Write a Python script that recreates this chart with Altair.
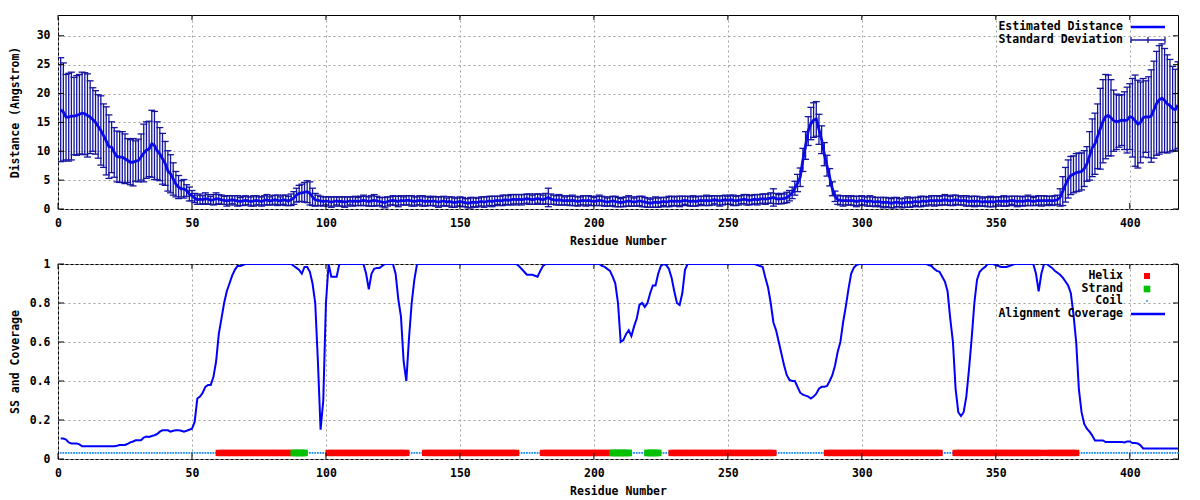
import altair as alt
import pandas as pd

residue = list(range(1, 419))

distance = [
    17.2, 16.8, 15.9, 15.9, 16.1, 16.1, 16.2, 16.4, 16.6, 16.5,
    16.2, 15.9, 15.5, 15.0, 14.3, 13.6, 12.7, 11.8, 10.8, 10.7,
    9.8, 9.1, 9.0, 9.0, 8.7, 8.4, 8.1, 8.1, 8.3, 8.4,
    9.0, 9.7, 10.2, 10.4, 11.3, 11.0, 10.1, 9.5, 8.7, 7.9,
    6.6, 6.1, 5.2, 4.3, 3.8, 3.5, 3.5, 3.2, 2.6, 2.3,
    1.9, 1.6, 1.7, 1.6, 1.8, 1.7, 1.5, 1.6, 1.8, 1.7,
    1.6, 1.5, 1.4, 1.5, 1.6, 1.5, 1.4, 1.3, 1.4, 1.5,
    1.4, 1.3, 1.4, 1.5, 1.4, 1.3, 1.5, 1.6, 1.4, 1.5,
    1.6, 1.5, 1.4, 1.6, 1.5, 1.4, 1.6, 1.9, 2.4, 2.7,
    2.8, 2.9, 3.0, 2.7, 2.1, 1.6, 1.5, 1.4, 1.3, 1.4,
    1.3, 1.2, 1.3, 1.4, 1.3, 1.3, 1.2, 1.3, 1.4, 1.3,
    1.4, 1.3, 1.4, 1.5, 1.4, 1.3, 1.4, 1.5, 1.4, 1.3,
    1.2, 1.1, 1.3, 1.4, 1.5, 1.4, 1.3, 1.5, 1.4, 1.5,
    1.5, 1.4, 1.3, 1.4, 1.5, 1.4, 1.3, 1.4, 1.3, 1.4,
    1.3, 1.2, 1.3, 1.4, 1.2, 1.3, 1.2, 1.1, 1.2, 1.3,
    1.2, 1.1, 1.0, 1.1, 1.2, 1.1, 1.2, 1.3, 1.2, 1.3,
    1.4, 1.3, 1.4, 1.5, 1.4, 1.5, 1.6, 1.5, 1.6, 1.7,
    1.6, 1.7, 1.6, 1.7, 1.8, 1.7, 1.6, 1.7, 1.8, 1.7,
    1.6, 1.8, 2.0, 1.7, 1.6, 1.5, 1.6, 1.5, 1.4, 1.5,
    1.4, 1.5, 1.4, 1.3, 1.4, 1.5, 1.4, 1.5, 1.4, 1.3,
    1.4, 1.5, 1.4, 1.3, 1.2, 1.3, 1.4, 1.3, 1.2, 1.1,
    1.2, 1.3, 1.4, 1.3, 1.2, 1.3, 1.4, 1.3, 1.2, 1.1,
    1.0, 1.1, 1.2, 1.1, 1.2, 1.3, 1.2, 1.3, 1.4, 1.3,
    1.4, 1.3, 1.4, 1.5, 1.4, 1.3, 1.4, 1.3, 1.4, 1.5,
    1.4, 1.5, 1.4, 1.5, 1.6, 1.5, 1.4, 1.5, 1.6, 1.5,
    1.6, 1.5, 1.4, 1.5, 1.6, 1.7, 1.6, 1.5, 1.6, 1.7,
    1.6, 1.7, 1.8, 1.7, 1.8, 1.9, 2.0, 1.8, 1.7, 1.8,
    1.8, 2.0, 2.3, 2.8, 3.6, 4.5, 5.5, 8.5, 11.0, 13.5,
    14.8, 15.4, 15.6, 13.8, 12.0, 9.5, 7.5, 5.5, 3.5, 2.2,
    1.6, 1.5, 1.4, 1.5, 1.4, 1.5, 1.4, 1.3, 1.4, 1.5,
    1.4, 1.3, 1.4, 1.3, 1.2, 1.3, 1.2, 1.1, 1.2, 1.1,
    1.0, 1.1, 1.2, 1.1, 1.0, 1.1, 1.2, 1.1, 1.2, 1.3,
    1.2, 1.3, 1.4, 1.3, 1.4, 1.5, 1.4, 1.5, 1.4, 1.5,
    1.6, 1.5, 1.4, 1.5, 1.6, 1.5, 1.4, 1.5, 1.4, 1.3,
    1.4, 1.3, 1.4, 1.3, 1.2, 1.3, 1.2, 1.3, 1.2, 1.3,
    1.4, 1.3, 1.4, 1.3, 1.4, 1.5, 1.4, 1.3, 1.4, 1.3,
    1.4, 1.5, 1.4, 1.3, 1.4, 1.5, 1.4, 1.5, 1.4, 1.5,
    1.4, 1.5, 1.6, 2.0, 3.1, 4.2, 5.2, 5.8, 6.0, 6.3,
    6.4, 6.5, 7.0, 7.8, 9.2, 10.6, 11.3, 12.6, 13.9, 15.2,
    16.0, 16.2, 15.8, 15.3, 15.1, 15.2, 15.4, 15.3, 15.4, 16.0,
    15.8, 15.3, 14.7, 15.0, 15.8, 16.0, 15.9, 16.1, 17.2, 18.3,
    18.9, 19.2, 18.8, 18.2, 17.9, 17.4, 17.2, 18.0,
]

std_dev = [
    9.0, 8.5, 7.4, 7.6, 7.6, 6.7, 6.9, 6.9, 7.1, 7.1,
    7.2, 6.3, 5.5, 5.5, 5.5, 6.0, 5.5, 5.9, 5.5, 4.4,
    4.3, 4.4, 4.4, 4.4, 4.3, 3.8, 3.9, 4.1, 3.5, 3.7,
    4.0, 5.0, 4.9, 4.8, 5.8, 5.9, 5.0, 4.6, 4.4, 3.8,
    3.5, 3.3, 2.8, 2.2, 2.0, 1.4, 1.6, 1.0, 1.2, 0.9,
    0.8, 0.8, 0.9, 0.7, 1.0, 0.8, 0.7, 0.9, 1.0, 0.8,
    0.8, 0.7, 0.9, 0.8, 0.7, 0.8, 0.9, 0.7, 0.8, 0.8,
    0.7, 0.8, 0.9, 0.8, 0.7, 0.8, 0.8, 0.9, 0.7, 0.8,
    0.8, 0.9, 0.7, 0.8, 0.9, 0.8, 1.0, 1.1, 1.2, 1.4,
    1.5, 1.7, 1.9, 2.0, 1.5, 1.1, 0.9, 0.8, 0.8, 0.7,
    0.8, 0.9, 0.8, 0.7, 0.8, 0.8, 0.9, 0.8, 0.7, 0.8,
    0.8, 0.7, 0.8, 0.9, 0.8, 0.8, 0.9, 1.0, 0.8, 0.7,
    0.8, 0.9, 0.8, 0.7, 0.8, 0.8, 0.9, 0.8, 0.7, 0.8,
    0.8, 0.9, 0.8, 0.7, 0.8, 0.9, 0.8, 0.8, 0.7, 0.8,
    0.8, 0.9, 0.8, 0.8, 0.7, 0.8, 0.9, 0.8, 0.7, 0.8,
    0.8, 0.7, 0.8, 0.9, 0.8, 0.8, 0.7, 0.8, 0.9, 0.8,
    0.8, 0.9, 0.8, 0.7, 0.8, 0.9, 0.8, 0.8, 0.9, 0.8,
    0.9, 0.8, 0.9, 0.8, 0.8, 0.9, 0.8, 0.9, 0.8, 0.9,
    0.8, 0.9, 1.6, 0.9, 0.8, 0.8, 0.9, 0.8, 0.7, 0.8,
    0.8, 0.9, 0.8, 0.8, 0.7, 0.8, 0.9, 0.8, 0.8, 0.7,
    0.8, 0.9, 0.8, 0.8, 0.7, 0.8, 0.8, 0.9, 0.8, 0.7,
    0.8, 0.8, 0.9, 0.8, 0.7, 0.8, 0.8, 0.9, 0.8, 0.8,
    0.7, 0.8, 0.9, 0.8, 0.8, 0.7, 0.8, 0.9, 0.8, 0.8,
    0.8, 0.9, 0.8, 0.7, 0.8, 0.8, 0.9, 0.8, 0.8, 0.7,
    0.8, 0.9, 0.8, 0.8, 0.7, 0.8, 0.9, 0.8, 0.8, 0.7,
    0.8, 0.9, 0.8, 0.8, 0.7, 0.8, 0.9, 0.8, 0.8, 0.8,
    0.9, 0.8, 0.8, 0.9, 0.8, 0.9, 1.5, 0.9, 0.8, 0.9,
    0.8, 0.9, 0.9, 1.0, 1.2, 1.5, 1.6, 2.0, 2.4, 2.5,
    2.8, 3.0, 3.0, 2.6, 2.4, 2.0, 1.8, 1.5, 1.2, 0.9,
    0.8, 0.8, 0.9, 0.8, 0.7, 0.8, 0.8, 0.9, 0.8, 0.8,
    0.7, 0.8, 0.9, 0.8, 0.8, 0.7, 0.8, 0.9, 0.8, 0.8,
    0.8, 0.9, 0.8, 0.7, 0.8, 0.8, 0.9, 0.8, 0.8, 0.7,
    0.8, 0.9, 0.8, 0.8, 0.7, 0.8, 0.9, 0.8, 0.8, 0.8,
    0.9, 0.8, 0.8, 0.9, 0.8, 0.8, 0.7, 0.8, 0.9, 0.8,
    0.8, 0.9, 0.8, 0.8, 0.7, 0.8, 0.8, 0.9, 0.8, 0.8,
    0.7, 0.8, 0.9, 0.8, 0.8, 0.7, 0.8, 0.9, 0.8, 0.8,
    0.8, 0.9, 0.8, 0.7, 0.8, 0.8, 0.9, 0.8, 0.8, 0.7,
    0.8, 0.8, 0.8, 1.5, 2.5, 3.0, 3.3, 3.3, 3.2, 3.3,
    3.3, 3.2, 3.1, 3.0, 4.2, 5.0, 5.3, 5.6, 7.0, 7.2,
    7.3, 7.0, 6.6, 5.3, 4.8, 4.5, 4.4, 5.0, 5.7, 5.7,
    6.8, 7.9, 7.6, 7.0, 6.8, 6.2, 7.0, 8.0, 8.4, 9.0,
    9.4, 9.4, 9.0, 8.5, 8.0, 7.3, 7.0, 7.5,
]

coverage = [
    0.105, 0.105, 0.100, 0.085, 0.080, 0.080, 0.080, 0.075, 0.065, 0.065,
    0.065, 0.065, 0.065, 0.065, 0.065, 0.065, 0.065, 0.065, 0.065, 0.065,
    0.065, 0.068, 0.072, 0.072, 0.072, 0.078, 0.085, 0.090, 0.096, 0.096,
    0.096, 0.110, 0.115, 0.113, 0.118, 0.122, 0.128, 0.140, 0.147, 0.147,
    0.147, 0.140, 0.145, 0.147, 0.147, 0.145, 0.140, 0.145, 0.150, 0.155,
    0.190, 0.310, 0.320, 0.340, 0.370, 0.380, 0.380, 0.420, 0.500, 0.640,
    0.720, 0.800, 0.860, 0.900, 0.940, 0.970, 0.990, 0.990, 0.995, 1.000,
    1.000, 1.000, 1.000, 1.000, 1.000, 1.000, 1.000, 1.000, 1.000, 1.000,
    1.000, 1.000, 1.000, 1.000, 1.000, 1.000, 1.000, 0.990, 0.980, 0.970,
    0.950, 0.985, 0.985, 0.960, 0.900, 0.800, 0.500, 0.150, 0.300, 0.800,
    1.000, 0.935, 0.935, 0.935, 1.000, 1.000, 1.000, 1.000, 1.000, 1.000,
    1.000, 1.000, 1.000, 1.000, 0.950, 0.870, 0.950, 0.975, 0.980, 0.980,
    0.990, 1.000, 1.000, 1.000, 1.000, 0.950, 0.820, 0.730, 0.500, 0.400,
    0.620, 0.800, 0.920, 1.000, 1.000, 1.000, 1.000, 1.000, 1.000, 1.000,
    1.000, 1.000, 1.000, 1.000, 1.000, 1.000, 1.000, 1.000, 1.000, 1.000,
    1.000, 1.000, 1.000, 1.000, 1.000, 1.000, 1.000, 1.000, 1.000, 1.000,
    1.000, 1.000, 1.000, 1.000, 1.000, 1.000, 1.000, 1.000, 1.000, 1.000,
    1.000, 0.990, 0.975, 0.960, 0.945, 0.945, 0.945, 0.940, 0.935, 0.965,
    0.990, 1.000, 1.000, 1.000, 1.000, 1.000, 1.000, 1.000, 1.000, 1.000,
    1.000, 1.000, 1.000, 1.000, 1.000, 1.000, 1.000, 1.000, 1.000, 1.000,
    1.000, 1.000, 0.990, 0.985, 0.975, 0.965, 0.935, 0.900, 0.800, 0.600,
    0.610, 0.640, 0.660, 0.630, 0.680, 0.720, 0.790, 0.800, 0.780, 0.800,
    0.850, 0.890, 0.890, 0.950, 0.990, 1.000, 0.995, 0.975, 0.930, 0.860,
    0.800, 0.790, 0.850, 0.970, 1.000, 1.000, 1.000, 1.000, 1.000, 1.000,
    1.000, 1.000, 1.000, 1.000, 1.000, 1.000, 1.000, 1.000, 1.000, 1.000,
    1.000, 1.000, 1.000, 1.000, 1.000, 1.000, 1.000, 1.000, 1.000, 1.000,
    0.995, 0.990, 0.985, 0.930, 0.880, 0.800, 0.700, 0.660, 0.600, 0.540,
    0.480, 0.430, 0.405, 0.400, 0.400, 0.370, 0.340, 0.330, 0.325, 0.320,
    0.310, 0.320, 0.335, 0.360, 0.370, 0.370, 0.375, 0.400, 0.430, 0.480,
    0.550, 0.600, 0.700, 0.780, 0.870, 0.950, 0.980, 0.995, 1.000, 1.000,
    1.000, 1.000, 1.000, 1.000, 1.000, 1.000, 1.000, 1.000, 1.000, 1.000,
    1.000, 1.000, 1.000, 1.000, 1.000, 1.000, 1.000, 1.000, 1.000, 1.000,
    1.000, 1.000, 1.000, 1.000, 0.995, 0.990, 0.975, 0.965, 0.960, 0.935,
    0.910, 0.860, 0.720, 0.600, 0.360, 0.240, 0.220, 0.240, 0.320, 0.460,
    0.620, 0.800, 0.920, 0.960, 0.975, 0.985, 1.000, 1.000, 1.000, 0.995,
    0.990, 0.985, 0.985, 0.985, 0.990, 0.995, 1.000, 1.000, 1.000, 1.000,
    1.000, 1.000, 1.000, 1.000, 0.950, 0.860, 0.950, 1.000, 1.000, 0.990,
    0.980, 0.965, 0.955, 0.945, 0.930, 0.910, 0.890, 0.850, 0.740, 0.600,
    0.360, 0.240, 0.180, 0.155, 0.140, 0.120, 0.095, 0.095, 0.095, 0.095,
    0.087, 0.087, 0.087, 0.087, 0.087, 0.087, 0.087, 0.085, 0.090, 0.090,
    0.082, 0.082, 0.080, 0.070, 0.054, 0.054, 0.054, 0.054, 0.054, 0.054,
    0.054, 0.054, 0.054, 0.054, 0.054, 0.054, 0.054, 0.054,
]

# secondary structure as (type, run length): H helix, E strand, C coil
ss_runs = [
    ("C", 59), ("H", 28), ("E", 5), ("C", 8), ("H", 30), ("C", 6),
    ("H", 35), ("C", 9), ("H", 26), ("E", 7), ("C", 6), ("E", 5),
    ("C", 4), ("H", 39), ("C", 19), ("H", 43), ("C", 5), ("H", 33),
    ("C", 1), ("H", 12), ("C", 38),
]
ss_level = 0.031

x_ticks = [0, 50, 100, 150, 200, 250, 300, 350, 400]
dist_ticks = [0, 5, 10, 15, 20, 25, 30]
cov_ticks = [0, 0.2, 0.4, 0.6, 0.8, 1.0]

ss = []
for code, n in ss_runs:
    ss.extend([code] * n)

assert len(distance) == 418, len(distance)
assert len(std_dev) == 418, len(std_dev)
assert len(coverage) == 418, len(coverage)
assert len(ss) == 418, len(ss)

df = pd.DataFrame({
    "residue": residue,
    "distance": distance,
    "std": std_dev,
    "coverage": coverage,
    "ss": ss,
})

FONT = "DejaVu Sans Mono"
FS = 11.5
W = 1120
H1 = 194
H2 = 195
LINE_C = "#0a0ae6"
BAR_C = "#14149e"

xscale = alt.Scale(domain=[0, 418], nice=False, zero=False)
y1scale = alt.Scale(domain=[0, 33.6], nice=False, zero=False)
y2scale = alt.Scale(domain=[0, 1], nice=False, zero=False)

xaxis = alt.Axis(values=x_ticks, format="d", title="Residue Number",
                 labelFlush=False, labelPadding=8, titlePadding=7)
y1axis = alt.Axis(values=dist_ticks, format="d", title="Distance (Angstrom)",
                  labelPadding=8, titlePadding=16)
y2axis = alt.Axis(values=cov_ticks, format="~g", title="SS and Coverage",
                  labelPadding=8, titlePadding=9)


def X(field):
    return alt.X(field, type="quantitative", scale=xscale, axis=xaxis)


def Y1(field):
    return alt.Y(field, type="quantitative", scale=y1scale, axis=y1axis)


def Y2(field):
    return alt.Y(field, type="quantitative", scale=y2scale, axis=y2axis)


def label(text, x, y):
    return alt.Chart(alt.Data(values=[{"t": text}])).mark_text(
        align="right", baseline="middle", font=FONT, fontSize=FS,
        fontWeight="bold", color="black"
    ).encode(x=alt.value(x), y=alt.value(y), text="t:N")


def seg(x1, x2, y1, y2, color, w):
    return alt.Chart(alt.Data(values=[{}])).mark_rule(
        color=color, strokeWidth=w
    ).encode(x=alt.value(x1), x2=alt.value(x2), y=alt.value(y1), y2=alt.value(y2))


def inner_ticks(Yenc, yvals, h):
    xt = alt.Chart(pd.DataFrame({"t": x_ticks}))
    yt = alt.Chart(pd.DataFrame({"t": yvals}))
    return [
        xt.mark_rule(color="black").encode(x=X("t"), y=alt.value(h), y2=alt.value(h - 6)),
        xt.mark_rule(color="black").encode(x=X("t"), y=alt.value(0), y2=alt.value(5)),
        yt.mark_rule(color="black").encode(y=Yenc("t"), x=alt.value(0), x2=alt.value(6)),
        yt.mark_rule(color="black").encode(y=Yenc("t"), x=alt.value(W), x2=alt.value(W - 5)),
    ]


base = alt.Chart(df).transform_calculate(
    lo="datum.distance - datum.std", hi="datum.distance + datum.std"
)

bars = base.mark_rule(color=BAR_C, strokeWidth=1.3, clip=True).encode(
    x=X("residue"), y=Y1("lo"), y2="hi:Q",
)
cap_style = dict(shape="M-1,0L1,0", size=49, filled=False, color=BAR_C,
                 strokeWidth=1.3, opacity=1, clip=True)
caps_hi = base.mark_point(**cap_style).encode(x=X("residue"), y=Y1("hi"))
caps_lo = base.mark_point(**cap_style).encode(x=X("residue"), y=Y1("lo"))
dist_line = base.mark_line(color=LINE_C, strokeWidth=2.8, clip=True).encode(
    x=X("residue"), y=Y1("distance"),
)

top_legend = [
    label("Estimated Distance", 1065, 12),
    seg(1073, 1107, 12, 12, "#0000ff", 2.5),
    label("Standard Deviation", 1065, 25),
    seg(1073, 1107, 25, 25, BAR_C, 1.3),
    seg(1073, 1073, 22, 28, BAR_C, 1.3),
    seg(1090, 1090, 22, 28, BAR_C, 1.3),
    seg(1107, 1107, 22, 28, BAR_C, 1.3),
]

top = alt.layer(
    bars, caps_hi, caps_lo, dist_line,
    *inner_ticks(Y1, dist_ticks, H1),
    *top_legend,
).properties(width=W, height=H1)

cbase = alt.Chart(df)
cov_line = cbase.mark_line(color="#0000ff", strokeWidth=2, clip=True).encode(
    x=X("residue"), y=Y2("coverage"),
)


def ss_layer(code, size, color):
    return cbase.transform_filter(f"datum.ss == '{code}'").mark_point(
        shape="square", filled=True, size=size, color=color, opacity=1
    ).encode(
        x=X("residue"),
        y=alt.YDatum(ss_level, type="quantitative", scale=y2scale, axis=y2axis),
    )


coil = ss_layer("C", 3, "#0a84ff")
helix = ss_layer("H", 40, "#ff0000")
strand = ss_layer("E", 44, "#00c000")


def sym(x, y, color, size):
    return alt.Chart(alt.Data(values=[{}])).mark_point(
        shape="square", filled=True, size=size, color=color, opacity=1
    ).encode(x=alt.value(x), y=alt.value(y))


bottom_legend = [
    label("Helix", 1065, 12), sym(1089, 12, "#ff0000", 36),
    label("Strand", 1065, 25), sym(1089, 25, "#00c000", 44),
    label("Coil", 1065, 37), sym(1089, 37, "#0a84ff", 3),
    label("Alignment Coverage", 1065, 50),
    seg(1073, 1107, 50, 50, "#0000ff", 2.5),
]

bottom = alt.layer(
    coil, cov_line, helix, strand,
    *inner_ticks(Y2, cov_ticks, H2),
    *bottom_legend,
).properties(width=W, height=H2)

chart = alt.vconcat(top, bottom, spacing=9).properties(
    padding={"left": 0, "top": 6, "right": 5, "bottom": 0},
    background="white",
).configure_view(
    stroke="black", strokeWidth=1
).configure_axis(
    domain=False, ticks=False, tickSize=0,
    grid=True, gridColor="#a0a0a0", gridDash=[2, 3], gridWidth=1,
    labelFont=FONT, labelFontSize=FS, labelFontWeight="bold", labelColor="black",
    titleFont=FONT, titleFontSize=FS, titleFontWeight="bold", titleColor="black",
)

chart.save("out.html", embed_options={"renderer": "svg", "actions": False})
